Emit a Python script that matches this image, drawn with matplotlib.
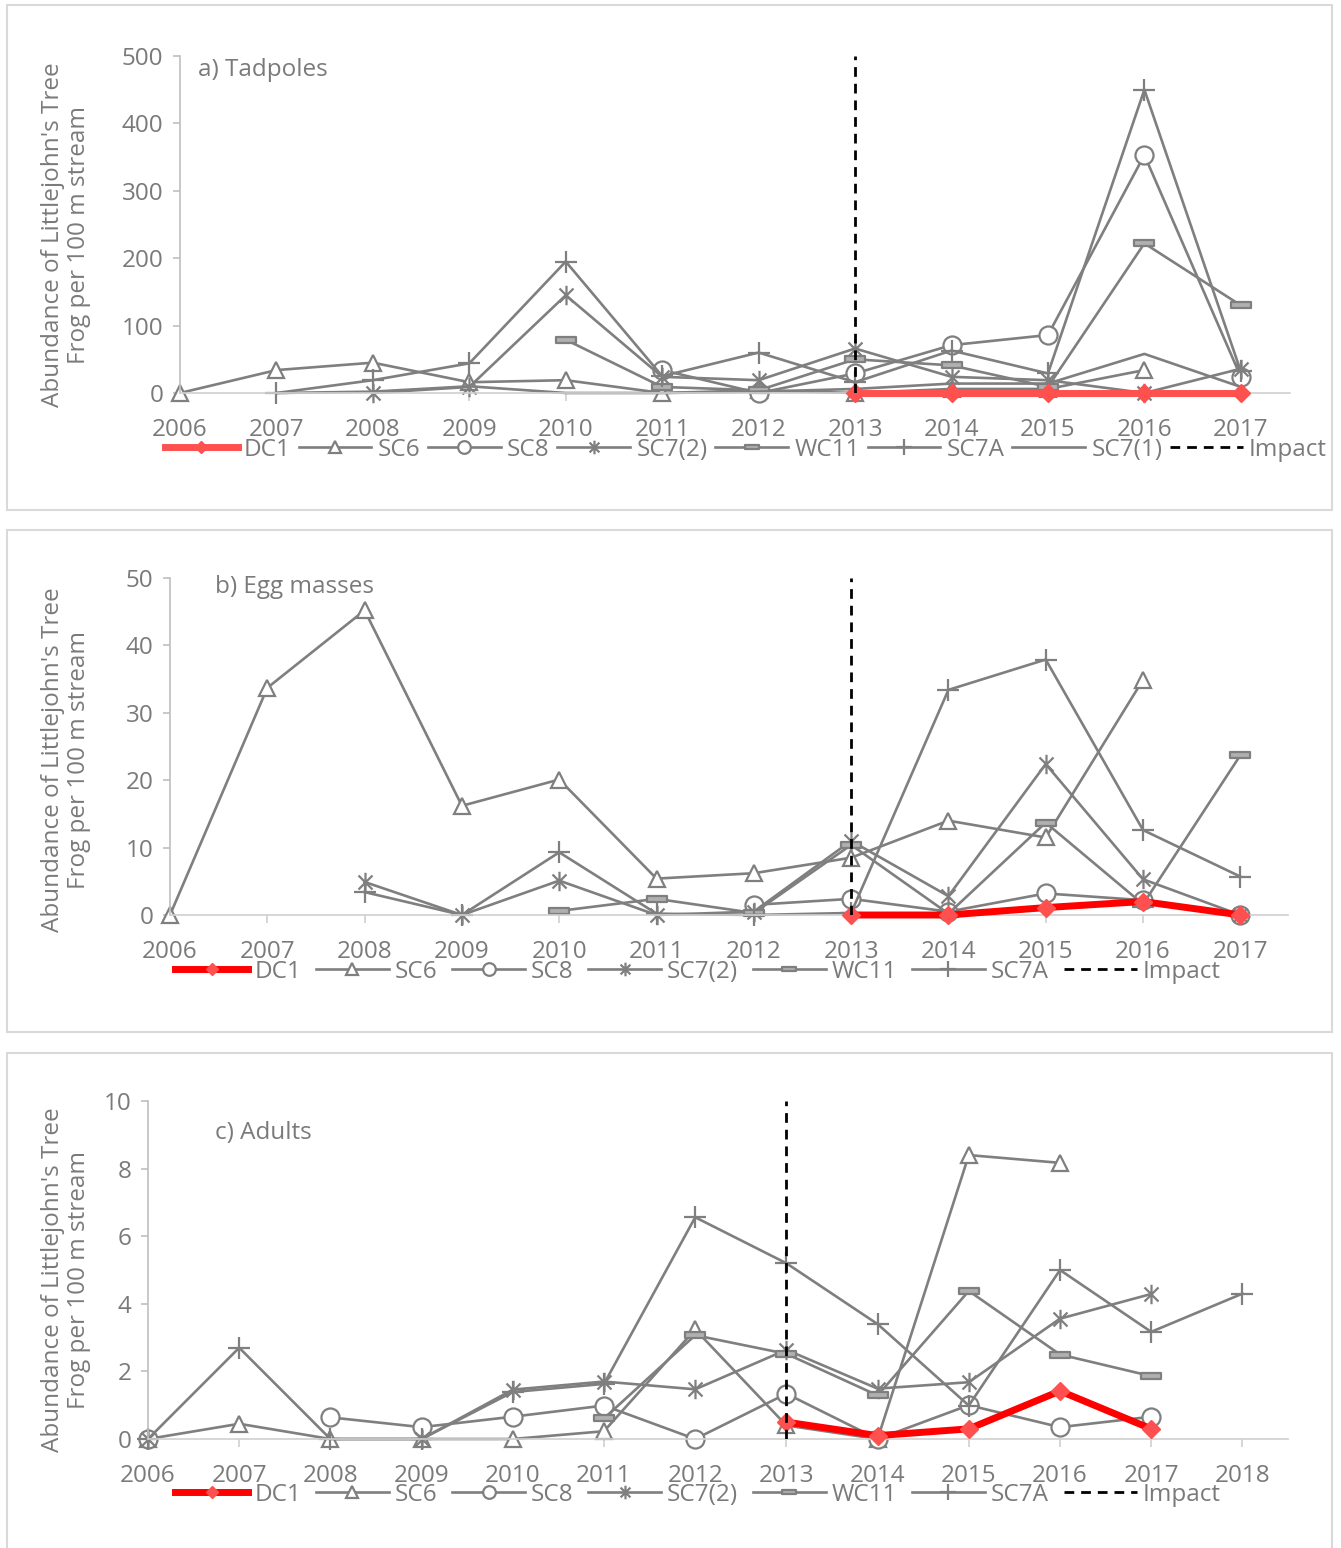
import numpy as np
import matplotlib
matplotlib.use("Agg")
import matplotlib.pyplot as plt
from matplotlib.path import Path
from matplotlib.patches import Rectangle

plt.rcParams['font.family'] = ['Open Sans', 'DejaVu Sans']

nan = np.nan

# a) Tadpoles, 2006-2017
years_a = list(range(2006, 2018))
dc1_a = [nan, nan, nan, nan, nan, nan, nan, 0, 0, 0, 0, 0]
sc6_a = [0, 34, 45, 16, 19, 0, 4, 0, 6, 6, 34, nan]
sc8_a = [nan, nan, nan, nan, nan, 34, 0, 29, 71, 86, 353, 24]
sc72_a = [nan, nan, 0, 9, 145, 24, 19, 66, 24, 19, 0, 36]
wc11_a = [nan, nan, nan, nan, 79, 9, 4, 50, 41, 9, 222, 130]
sc7a_a = [nan, 0, 19, 44, 195, 25, 60, 16, 63, 29, 450, 32]
sc71_a = [nan, 0, 2, 10, 0, 0, 2, 6, 14, 14, 58, 9]

# b) Egg masses, 2006-2017
years_b = list(range(2006, 2018))
dc1_b = [nan, nan, nan, nan, nan, nan, nan, 0, 0, 1.1, 2.0, 0]
sc6_b = [0, 33.7, 45.2, 16.2, 20.1, 5.4, 6.2, 8.5, 14, 11.5, 34.9, nan]
sc8_b = [nan, nan, nan, nan, nan, nan, 1.5, 2.4, 0.5, 3.2, 2.2, 0]
sc72_b = [nan, nan, 4.9, 0, 5.1, 0, 0.5, 11, 2.8, 22.4, 5.3, 0]
wc11_b = [nan, nan, nan, nan, 0.6, 2.4, 0.3, 10.4, 0.2, 13.7, 1.6, 23.7]
sc7a_b = [nan, nan, 3.4, 0, 9.3, 0.2, 0, 0.3, 33.4, 37.9, 12.6, 5.7]

# c) Adults, 2006-2018
years_c = list(range(2006, 2019))
dc1_c = [nan, nan, nan, nan, nan, nan, nan, 0.5, 0.1, 0.3, 1.42, 0.3, nan]
sc6_c = [0, 0.45, 0, 0, 0, 0.23, 3.24, 0.4, 0, 8.4, 8.17, nan, nan]
sc8_c = [0, nan, 0.64, 0.35, 0.66, 0.99, 0, 1.34, 0, 1.0, 0.35, 0.66, nan]
sc72_c = [0, nan, nan, 0, 1.46, 1.7, 1.47, 2.64, 1.49, 1.68, 3.56, 4.29, nan]
wc11_c = [nan, nan, nan, nan, nan, 0.61, 3.07, 2.52, 1.29, 4.38, 2.5, 1.86, nan]
sc7a_c = [0, 2.7, 0, 0, 1.39, 1.63, 6.56, 5.2, 3.4, 0.99, 5.0, 3.17, 4.3]

grey = '#7f7f7f'
txt = '#7a7a7a'
fs = 17.5
W, H = 1341, 1548

# markers: excel style asterisk and dash
star = Path([(0, -1), (0, 1), (-0.72, -0.72), (0.72, 0.72), (-0.72, 0.72), (0.72, -0.72)],
            [Path.MOVETO, Path.LINETO, Path.MOVETO, Path.LINETO, Path.MOVETO, Path.LINETO])
dash = Path([(-1, -0.28), (1, -0.28), (1, 0.28), (-1, 0.28), (-1, -0.28)],
            [Path.MOVETO, Path.LINETO, Path.LINETO, Path.LINETO, Path.CLOSEPOLY])

fig = plt.figure(figsize=(W / 100, H / 100), dpi=100)


def px_axes(l, r, t, b):
    return fig.add_axes([l / W, 1 - b / H, (r - l) / W, (b - t) / H])


def panel(ax, years, dc1, sc6, sc8, sc72, wc11, sc7a, sc71, ymax, ystep, xmax,
          title, tx, ty, dc1_line):
    kw = dict(color=grey, lw=1.9, mfc='white', mec=grey, mew=1.6, clip_on=False)
    ax.plot(years, dc1, color=dc1_line, lw=5, marker='D', ms=9, mfc='#ff5050',
            mec='#ff5050', label='DC1', zorder=3, clip_on=False)
    ax.plot(years, sc6, marker='^', ms=12, label='SC6', **kw)
    ax.plot(years, sc8, marker='o', ms=13, label='SC8', **kw)
    ax.plot(years, sc72, marker=star, ms=14, label='SC7(2)', **kw)
    kw['mfc'] = '#b0b0b0'
    ax.plot(years, wc11, marker=dash, ms=14, label='WC11', **kw)
    kw['mfc'] = 'white'
    ax.plot(years, sc7a, marker='+', ms=16, label='SC7A', **kw)
    if sc71 is not None:
        ax.plot(years, sc71, color=grey, lw=1.9, label='SC7(1)', clip_on=False)
    ax.plot([2013, 2013], [0, ymax], color='black', lw=2, dashes=(3.5, 2.5),
            label='Impact', zorder=4)

    ax.set_xlim(2006, xmax)
    ax.set_ylim(0, ymax)
    ax.set_xticks(years)
    ax.set_yticks(np.arange(0, ymax + ystep / 2, ystep))
    for s in ['top', 'right']:
        ax.spines[s].set_visible(False)
    ax.spines['left'].set_color('#bfbfbf')
    ax.spines['bottom'].set_color('#d0d0d0')
    ax.spines['left'].set_linewidth(1.2)
    ax.spines['bottom'].set_linewidth(1.2)
    ax.tick_params(axis='y', length=5, width=1.2, color='#bfbfbf', pad=7,
                   labelsize=fs, labelcolor=txt)
    ax.tick_params(axis='x', length=6, width=1.2, color='#d0d0d0', pad=12,
                   labelsize=fs, labelcolor=txt)
    ax.text(tx, ty, title, transform=ax.transAxes, fontsize=fs, color=txt,
            ha='left', va='center')


ylab = "Abundance of Littlejohn's Tree\nFrog per 100 m stream"

# panel frames
for top, bot in [(5, 510), (530, 1032), (1053, 1600)]:
    fig.patches.append(Rectangle((7 / W, 1 - bot / H), (1332 - 7) / W, (bot - top) / H,
                                 transform=fig.transFigure, fill=False,
                                 edgecolor='#d9d9d9', lw=1.5))

ax1 = px_axes(180, 1290, 56, 393)
panel(ax1, years_a, dc1_a, sc6_a, sc8_a, sc72_a, wc11_a, sc7a_a, sc71_a,
      500, 100, 2017.51, 'a) Tadpoles', 0.016, 0.958, '#ff5050')
ax2 = px_axes(170, 1288, 578, 915)
panel(ax2, years_b, dc1_b, sc6_b, sc8_b, sc72_b, wc11_b, sc7a_b, None,
      50, 10, 2017.49, 'b) Egg masses', 0.04, 0.973, '#ff0000')
ax3 = px_axes(148, 1288, 1101, 1439)
panel(ax3, years_c, dc1_c, sc6_c, sc8_c, sc72_c, wc11_c, sc7a_c, None,
      10, 2, 2018.5, 'c) Adults', 0.059, 0.905, '#ff0000')

for ax, yc, lx, ly, cs in [(ax1, 235, 746, 450, 0.32), (ax2, 760, 698, 972, 0.6),
                           (ax3, 1280, 698, 1495, 0.6)]:
    fig.text(66 / W, 1 - yc / H, ylab, rotation=90, ha='center', va='center',
             fontsize=fs, color=txt, linespacing=1.15)
    h, l = ax.get_legend_handles_labels()
    fig.legend(h, l, loc='center', bbox_to_anchor=(lx / W, 1 - ly / H), ncol=len(l),
               frameon=False, fontsize=fs, labelcolor=txt, handlelength=3.0,
               handletextpad=0.25, columnspacing=cs, borderaxespad=0,
               markerscale=0.7)

fig.savefig('out.png', dpi=100)
